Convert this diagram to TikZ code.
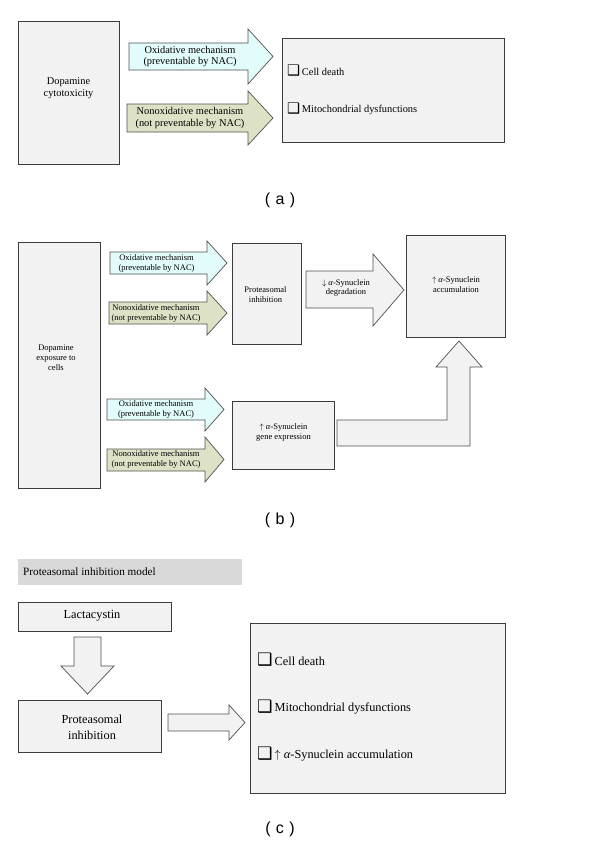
\documentclass[tikz,border=0pt]{standalone}
\usepackage{fontspec}
\setmainfont{Liberation Serif}
\setsansfont{Liberation Sans}
\newfontfamily\chkfont{DejaVu Sans}
\definecolor{boxfill}{HTML}{F2F2F2}
\definecolor{boxline}{HTML}{3C3C3C}
\definecolor{arrline}{HTML}{505050}
\definecolor{cyanfill}{HTML}{E2FBFB}
\definecolor{greenfill}{HTML}{DDE2C6}
\definecolor{banner}{HTML}{D9D9D9}
\newcommand{\chk}{\raisebox{-0.5pt}{\scalebox{1.4}{\chkfont\char"2751}}\,}
\begin{document}
\begin{tikzpicture}[x=1pt,y=-1pt,
  box/.style={draw=boxline,fill=boxfill,line width=0.9pt},
  blockarr/.style={draw=arrline,line width=0.7pt,line join=miter},
  txt/.style={align=center,inner sep=0pt},
  fa/.style={font=\fontsize{10.4}{11.8}\selectfont},
  fb/.style={font=\fontsize{8.5}{9.8}\selectfont},
  fc/.style={font=\fontsize{12.3}{16}\selectfont},
  lab/.style={font=\sffamily\fontsize{16}{16}\selectfont,inner sep=0pt}]
\useasboundingbox (0,0) rectangle (600,844);
\fill[white] (0,0) rectangle (600,844);

% ---------------- (a) ----------------
\draw[box] (18,21) rectangle (119,164);
\node[txt,fa] (a1) at (68.5,88.5) {Dopamine\\cytotoxicity};
\draw[blockarr,fill=cyanfill] (129,43) -- (248,43) -- (248,29) -- (273,56.5) -- (248,84) -- (248,70) -- (129,70) -- cycle;
\node[txt,fa] (a2) at (190,56.5) {Oxidative mechanism\\(preventable by NAC)};
\draw[blockarr,fill=greenfill] (127,104) -- (248,104) -- (248,91) -- (273,118) -- (248,145) -- (248,132) -- (127,132) -- cycle;
\node[txt,fa] (a3) at (190,118) {Nonoxidative mechanism\\(not preventable by NAC)};
\draw[box] (282,38) rectangle (504,142);
\node[anchor=west,inner sep=0pt,fa] (a4) at (287,71) {\chk Cell death};
\node[anchor=west,inner sep=0pt,fa] (a5) at (287,109) {\chk Mitochondrial dysfunctions};
\node[lab] (la) at (280,200) {(\,\,a\,\,)};

% ---------------- (b) ----------------
\draw[box] (18,242) rectangle (100,488);
\node[txt,fb] (b1) at (56,358) {Dopamine\\exposure to\\cells};
\draw[blockarr,fill=cyanfill] (110,252) -- (207,252) -- (207,241) -- (227,263) -- (207,285) -- (207,274) -- (110,274) -- cycle;
\node[txt,fb] (b2) at (156.5,263.5) {Oxidative mechanism\\(preventable by NAC)};
\draw[blockarr,fill=greenfill] (109,302) -- (207,302) -- (207,291) -- (227,313) -- (207,335) -- (207,324) -- (109,324) -- cycle;
\node[txt,fb] (b3) at (156,313.5) {Nonoxidative mechanism\\(not preventable by NAC)};
\draw[box] (232,243) rectangle (301,344);
\node[txt,fb] (b4) at (265.5,294.5) {Proteasomal\\inhibition};
\draw[blockarr,fill=boxfill] (306,271) -- (373,271) -- (373,254) -- (404,290) -- (373,326) -- (373,308) -- (306,308) -- cycle;
\node[txt,fb] (b5) at (346,288) {$\downarrow$ \textit{α}-Synuclein\\degradation};
\draw[box] (406,235) rectangle (505,337);
\node[txt,fb] (b6) at (456,284.5) {$\uparrow$ \textit{α}-Synuclein\\accumulation};
\draw[blockarr,fill=cyanfill] (107,399) -- (205,399) -- (205,388) -- (224,409.5) -- (205,431) -- (205,420) -- (107,420) -- cycle;
\node[txt,fb] (b7) at (156,409.5) {Oxidative mechanism\\(preventable by NAC)};
\draw[blockarr,fill=greenfill] (107,449) -- (205,449) -- (205,437) -- (224,459.5) -- (205,482) -- (205,471) -- (107,471) -- cycle;
\node[txt,fb] (b8) at (156,459.5) {Nonoxidative mechanism\\(not preventable by NAC)};
\draw[box] (232,401) rectangle (334,469);
\node[txt,fb] (b9) at (283.5,432.5) {$\uparrow$ \textit{α}-Synuclein\\gene expression};
\draw[blockarr,fill=boxfill] (337,420) -- (447,420) -- (447,367) -- (436,367) -- (459,341) -- (482,367) -- (470,367) -- (470,446) -- (337,446) -- cycle;
\node[lab] (lb) at (280,520) {(\,\,b\,\,)};

% ---------------- (c) ----------------
\fill[banner] (18,559) rectangle (242,585);
\node[anchor=west,inner sep=0pt,font=\fontsize{11.2}{13}\selectfont] (c0) at (23,572) {Proteasomal inhibition model};
\draw[box] (18,602) rectangle (171,631);
\node[txt,fc] (c1) at (92,616) {Lactacystin};
\draw[blockarr,fill=boxfill] (74,637) -- (101,637) -- (101,666) -- (114,666) -- (87.5,694) -- (61,666) -- (74,666) -- cycle;
\draw[box] (18,700) rectangle (161,752);
\node[txt,fc] (c2) at (92,727.5) {Proteasomal\\inhibition};
\draw[blockarr,fill=boxfill] (168,714) -- (229,714) -- (229,705) -- (245,722.5) -- (229,740) -- (229,731) -- (168,731) -- cycle;
\draw[box] (250,623) rectangle (505,793);
\node[anchor=west,inner sep=0pt,fc] (c3) at (257,660) {\chk Cell death};
\node[anchor=west,inner sep=0pt,fc] (c4) at (257,707) {\chk Mitochondrial dysfunctions};
\node[anchor=west,inner sep=0pt,fc] (c5) at (257,754) {\chk $\uparrow$ \textit{α}-Synuclein accumulation};
\node[lab] (lc) at (280,829) {(\,\,c\,\,)};
\end{tikzpicture}
\end{document}
